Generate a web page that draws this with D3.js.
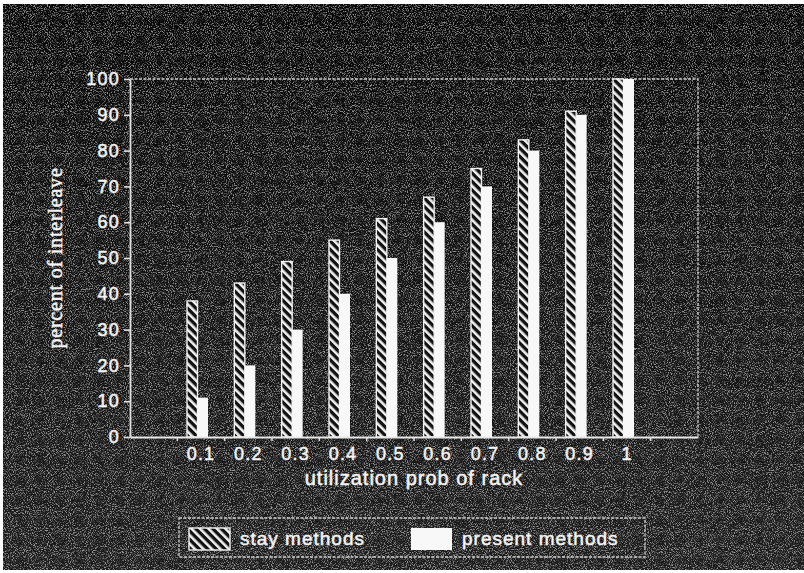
<!DOCTYPE html>
<html>
<head>
<meta charset="utf-8">
<script src="https://cdn.jsdelivr.net/npm/d3@7"></script>
<style>
  html, body { margin: 0; padding: 0; background: #fff; }
  svg { display: block; }
  text { fill: #f4f4f4; stroke: #f4f4f4; stroke-width: 0.5px; font-family: "Liberation Sans", Arial, sans-serif; }
</style>
</head>
<body>
<div id="chart"></div>
<script>
// data
const categories = ['0.1', '0.2', '0.3', '0.4', '0.5', '0.6', '0.7', '0.8', '0.9', '1'];
const stayMethods = [38, 43, 49, 55, 61, 67, 75, 83, 91, 100];
const presentMethods = [11, 20, 30, 40, 50, 60, 70, 80, 90, 100];
const seriesNames = ['stay methods', 'present methods'];
const yTicks = [0, 10, 20, 30, 40, 50, 60, 70, 80, 90, 100];

const width = 804, height = 573;
const plot = { left: 130, right: 698, top: 79, bottom: 437 };

const svg = d3.select('#chart').append('svg')
  .attr('width', width)
  .attr('height', height);

const defs = svg.append('defs');

// hatch for the "stay" bars (\\\ direction)
const hatch = defs.append('pattern')
  .attr('id', 'hatch')
  .attr('patternUnits', 'userSpaceOnUse')
  .attr('width', 6)
  .attr('height', 6)
  .attr('patternTransform', 'rotate(-45)');
hatch.append('rect').attr('width', 6).attr('height', 6).attr('fill', '#111');
hatch.append('rect').attr('width', 2.6).attr('height', 6).attr('fill', '#f2f2f2');

// photographic grain
const grain = defs.append('filter').attr('id', 'grain')
  .attr('x', 0).attr('y', 0).attr('width', '100%').attr('height', '100%');
grain.append('feTurbulence')
  .attr('type', 'fractalNoise')
  .attr('baseFrequency', 0.95)
  .attr('numOctaves', 2)
  .attr('seed', 7);
grain.append('feColorMatrix')
  .attr('type', 'matrix')
  .attr('values', '0 0 0 0 1  0 0 0 0 1  0 0 0 0 1  4 0 0 0 -1.9');

const shade = defs.append('linearGradient').attr('id', 'shade')
  .attr('x1', 0).attr('y1', 0).attr('x2', 0).attr('y2', 1);
shade.append('stop').attr('offset', 0).attr('stop-color', '#050505');
shade.append('stop').attr('offset', 0.25).attr('stop-color', '#0d0d0d');
shade.append('stop').attr('offset', 1).attr('stop-color', '#1c1c1c');

// dark photo with a thin white scan margin
svg.append('rect')
  .attr('x', 3).attr('y', 4)
  .attr('width', width - 3).attr('height', height - 7)
  .attr('fill', 'url(#shade)');
svg.append('rect')
  .attr('x', 3).attr('y', 4)
  .attr('width', width - 3).attr('height', height - 7)
  .attr('filter', 'url(#grain)')
  .attr('opacity', 0.55);

const x = d3.scaleBand()
  .domain(categories)
  .range([plot.left, plot.right])
  .paddingInner(0)
  .paddingOuter(1);

const y = d3.scaleLinear()
  .domain([0, 100])
  .range([plot.bottom, plot.top]);

const x1 = d3.scaleBand()
  .domain(seriesNames)
  .range([0, 21]);

const rows = categories.map((c, i) => ({ cat: c, values: [stayMethods[i], presentMethods[i]] }));

// plot frame (top and right)
svg.append('path')
  .attr('d', `M${plot.left},${plot.top}H${plot.right}V${plot.bottom}`)
  .attr('fill', 'none')
  .attr('stroke', '#cfcfcf')
  .attr('stroke-width', 1.3)
  .attr('stroke-dasharray', '3 1.5');

// bars
const groups = svg.append('g').selectAll('g')
  .data(rows)
  .join('g')
  .attr('transform', d => `translate(${x(d.cat) + x.bandwidth() / 2 - 14},0)`);

groups.selectAll('rect')
  .data(d => d.values.map((v, k) => ({ key: seriesNames[k], value: v })))
  .join('rect')
  .attr('x', d => x1(d.key))
  .attr('y', d => y(d.value))
  .attr('width', x1.bandwidth())
  .attr('height', d => y(0) - y(d.value))
  .attr('fill', d => d.key === seriesNames[0] ? 'url(#hatch)' : '#f8f8f8')
  .attr('stroke', d => d.key === seriesNames[0] ? '#f2f2f2' : 'none')
  .attr('stroke-width', 1.4);

// y axis
const yAxis = svg.append('g')
  .attr('transform', `translate(${plot.left},0)`)
  .call(d3.axisLeft(y).tickValues(yTicks).tickSize(6).tickSizeOuter(0).tickPadding(4));
yAxis.select('.domain').attr('stroke', '#e0e0e0').attr('stroke-width', 1.8);
yAxis.selectAll('.tick line').attr('stroke', '#e0e0e0').attr('stroke-width', 1.6);
yAxis.selectAll('.tick text')
  .attr('fill', '#f4f4f4')
  .style('font-size', '18px')
  .style('letter-spacing', '1.2px')
  .style('font-family', '"Liberation Sans", Arial, sans-serif');

// x axis
const xAxis = svg.append('g')
  .attr('transform', `translate(0,${plot.bottom})`)
  .call(d3.axisBottom(x).tickSize(0).tickPadding(10));
xAxis.select('.domain').attr('stroke', '#e8e8e8').attr('stroke-width', 2);
xAxis.selectAll('.tick text')
  .attr('fill', '#f4f4f4')
  .style('font-size', '18px')
  .style('letter-spacing', '1.2px')
  .style('font-family', '"Liberation Sans", Arial, sans-serif');

// small ticks at category boundaries
const bounds = categories.map(c => x(c)).concat([x(categories[categories.length - 1]) + x.step()]);
xAxis.selectAll('.bound')
  .data(bounds)
  .join('line')
  .attr('class', 'bound')
  .attr('x1', d => d).attr('x2', d => d)
  .attr('y1', 0).attr('y2', 4)
  .attr('stroke', '#e0e0e0')
  .attr('stroke-width', 1.5);

// axis titles
svg.append('text')
  .attr('x', 414)
  .attr('y', 485)
  .attr('text-anchor', 'middle')
  .style('font-size', '20px')
  .style('letter-spacing', '1px')
  .text('utilization prob of rack');

svg.append('text')
  .attr('transform', 'translate(62,258) rotate(-90)')
  .attr('text-anchor', 'middle')
  .style('font-family', '"Liberation Serif", "Times New Roman", serif')
  .style('font-size', '20px')
  .style('letter-spacing', '0.8px')
  .text('percent of interleave');

// legend
const legend = svg.append('g');
legend.append('rect')
  .attr('x', 179).attr('y', 518)
  .attr('width', 466).attr('height', 39)
  .attr('fill', 'none')
  .attr('stroke', '#d0d0d0')
  .attr('stroke-width', 1.3)
  .attr('stroke-dasharray', '3 1.5');

const legendX = [189, 411];
const items = legend.selectAll('g.item')
  .data(seriesNames)
  .join('g')
  .attr('class', 'item')
  .attr('transform', (d, i) => `translate(${legendX[i]},528)`);

items.append('rect')
  .attr('width', 41)
  .attr('height', 22)
  .attr('fill', (d, i) => i === 0 ? 'url(#hatch)' : '#f8f8f8')
  .attr('stroke', (d, i) => i === 0 ? '#f2f2f2' : 'none')
  .attr('stroke-width', 1.4);

items.append('text')
  .attr('x', 51)
  .attr('y', 17)
  .style('font-size', '19px')
  .style('letter-spacing', '1px')
  .text(d => d);
</script>
</body>
</html>
